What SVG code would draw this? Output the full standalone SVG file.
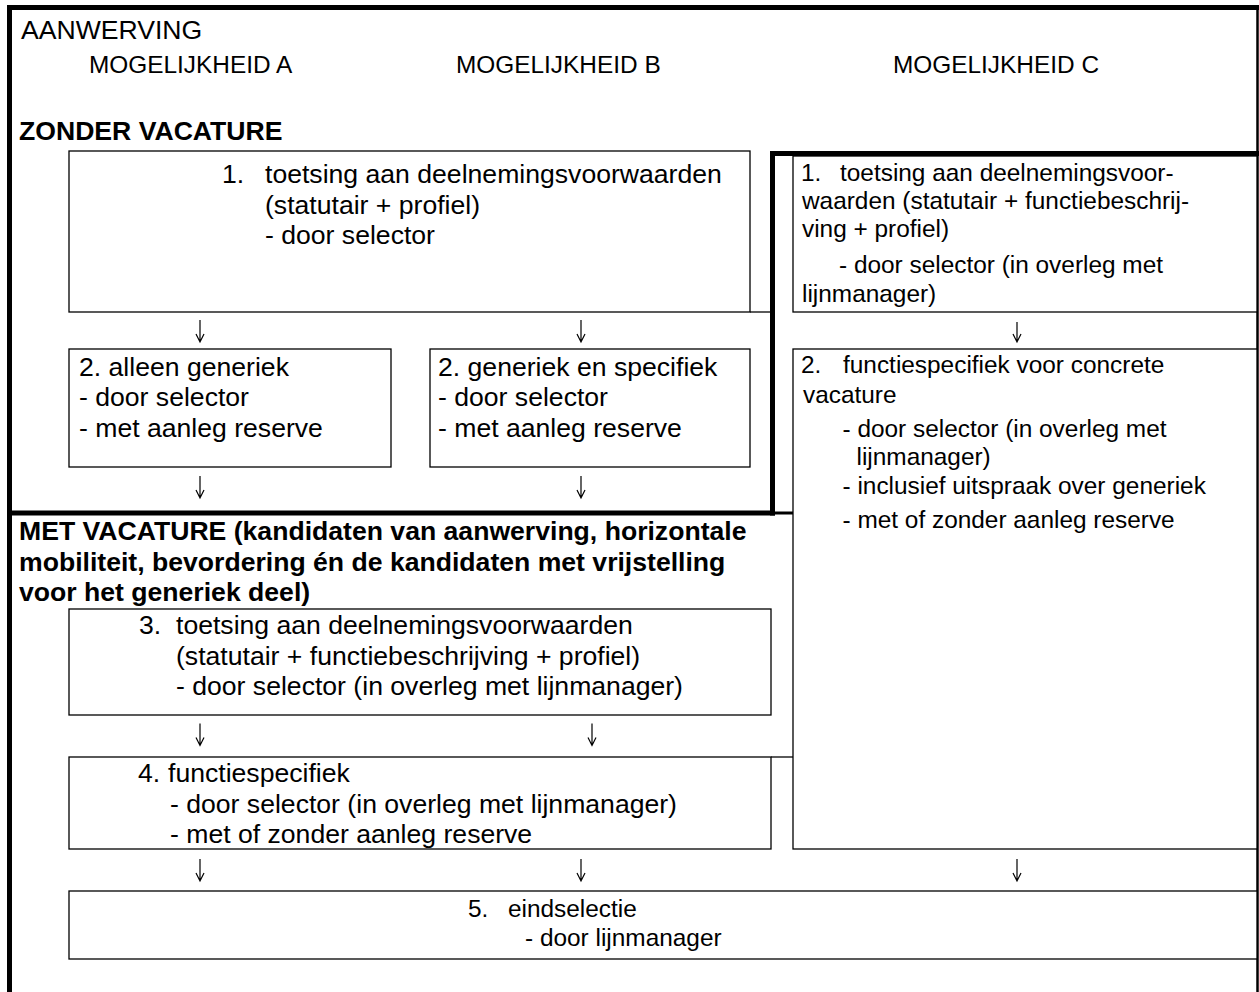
<svg xmlns="http://www.w3.org/2000/svg" width="1259" height="992" viewBox="0 0 1259 992">
<style>
text{font-family:"Liberation Sans",Arial,sans-serif;fill:#000}
.t12{font-size:26.6px}
.t11{font-size:24.4px}
.b{font-weight:bold}
.box{fill:#fff;stroke:#000;stroke-width:1.3}
.thin{stroke:#000;stroke-width:1.3;fill:none}
.thick{stroke:#000;stroke-width:5;fill:none}
.arr{stroke:#000;stroke-width:1.2;fill:none}
</style>
<rect x="0" y="0" width="1259" height="992" fill="#fff"/>
<g id="frame">
<line class="thick" x1="7" y1="7.5" x2="1259" y2="7.5"/>
<line class="thick" x1="9.5" y1="5" x2="9.5" y2="992"/>
<line x1="1257.5" y1="5" x2="1257.5" y2="992" stroke="#000" stroke-width="2.5"/>
<line class="thick" x1="772.5" y1="151" x2="772.5" y2="515.5"/>
<line class="thick" x1="770" y1="153.5" x2="1259" y2="153.5"/>
<line class="thick" x1="7" y1="513" x2="775" y2="513"/>
<line x1="775" y1="513" x2="793" y2="513" stroke="#000" stroke-width="3"/>
</g>
<g id="header">
<text class="t12" x="21" y="38.5">AANWERVING</text>
<text class="t11" x="89" y="73">MOGELIJKHEID A</text>
<text class="t11" x="456" y="73">MOGELIJKHEID B</text>
<text class="t11" x="893" y="73">MOGELIJKHEID C</text>
<text class="t12 b" x="19" y="140">ZONDER VACATURE</text>
</g>
<g id="node-a1">
<rect class="box" x="69" y="151" width="681" height="161"/>
<line class="thin" x1="750" y1="312" x2="772" y2="312"/>
<text class="t12" x="222" y="183">1.</text>
<text class="t12" x="265" y="183">toetsing aan deelnemingsvoorwaarden</text>
<text class="t12" x="265" y="213.5">(statutair + profiel)</text>
<text class="t12" x="265" y="244">- door selector</text>
</g>
<g id="node-a2">
<rect class="box" x="69" y="349" width="322" height="118"/>
<text class="t12" x="79" y="375.5">2. alleen generiek</text>
<text class="t12" x="79" y="406">- door selector</text>
<text class="t12" x="79" y="436.5">- met aanleg reserve</text>
</g>
<g id="node-b2">
<rect class="box" x="430" y="349" width="320" height="118"/>
<text class="t12" x="438" y="375.5">2. generiek en specifiek</text>
<text class="t12" x="438" y="406">- door selector</text>
<text class="t12" x="438" y="436.5">- met aanleg reserve</text>
</g>
<g id="node-c1">
<rect class="box" x="793" y="156" width="464" height="156"/>
<text class="t11" x="801" y="181">1.</text>
<text class="t11" x="840" y="181">toetsing aan deelnemingsvoor-</text>
<text class="t11" x="802" y="209">waarden (statutair + functiebeschrij-</text>
<text class="t11" x="802" y="237">ving + profiel)</text>
<text class="t11" x="839" y="273">- door selector (in overleg met</text>
<text class="t11" x="802" y="302">lijnmanager)</text>
</g>
<g id="node-c2">
<rect class="box" x="793" y="349" width="464" height="500"/>
<text class="t11" x="801" y="373">2.</text>
<text class="t11" x="843" y="373">functiespecifiek voor concrete</text>
<text class="t11" x="803" y="403">vacature</text>
<text class="t11" x="842.5" y="437">- door selector (in overleg met</text>
<text class="t11" x="856.5" y="465">lijnmanager)</text>
<text class="t11" x="842.5" y="494">- inclusief uitspraak over generiek</text>
<text class="t11" x="842.5" y="528">- met of zonder aanleg reserve</text>
</g>
<g id="section-met">
<text class="t12 b" x="19" y="540">MET VACATURE (kandidaten van aanwerving, horizontale</text>
<text class="t12 b" x="19" y="570.5">mobiliteit, bevordering én de kandidaten met vrijstelling</text>
<text class="t12 b" x="19" y="601">voor het generiek deel)</text>
</g>
<g id="node-3">
<rect class="box" x="69" y="609" width="702" height="106"/>
<text class="t12" x="139" y="634">3.</text>
<text class="t12" x="176" y="634">toetsing aan deelnemingsvoorwaarden</text>
<text class="t12" x="176" y="664.5">(statutair + functiebeschrijving + profiel)</text>
<text class="t12" x="176" y="695">- door selector (in overleg met lijnmanager)</text>
</g>
<g id="node-4">
<rect class="box" x="69" y="757" width="702" height="92"/>
<line class="thin" x1="771" y1="757" x2="793" y2="757"/>
<text class="t12" x="138" y="782">4.</text>
<text class="t12" x="168" y="782">functiespecifiek</text>
<text class="t12" x="170" y="812.5">- door selector (in overleg met lijnmanager)</text>
<text class="t12" x="170" y="843">- met of zonder aanleg reserve</text>
</g>
<g id="node-5">
<rect class="box" x="69" y="891" width="1188" height="68"/>
<text class="t11" x="468" y="917">5.</text>
<text class="t11" x="508" y="917">eindselectie</text>
<text class="t11" x="525" y="946">- door lijnmanager</text>
</g>
<g id="connectors">
<path class="arr" d="M200 320V342M196 334L200 342L204 334"/>
<path class="arr" d="M581 320V342M577 334L581 342L585 334"/>
<path class="arr" d="M1017 322V342M1013 334L1017 342L1021 334"/>
<path class="arr" d="M200 476V498M196 490L200 498L204 490"/>
<path class="arr" d="M581 476V498M577 490L581 498L585 490"/>
<path class="arr" d="M200 723.5V745.5M196 737.5L200 745.5L204 737.5"/>
<path class="arr" d="M592 723.5V745.5M588 737.5L592 745.5L596 737.5"/>
<path class="arr" d="M200 859V881M196 873L200 881L204 873"/>
<path class="arr" d="M581 859V881M577 873L581 881L585 873"/>
<path class="arr" d="M1017 859V881M1013 873L1017 881L1021 873"/>
</g>
</svg>
